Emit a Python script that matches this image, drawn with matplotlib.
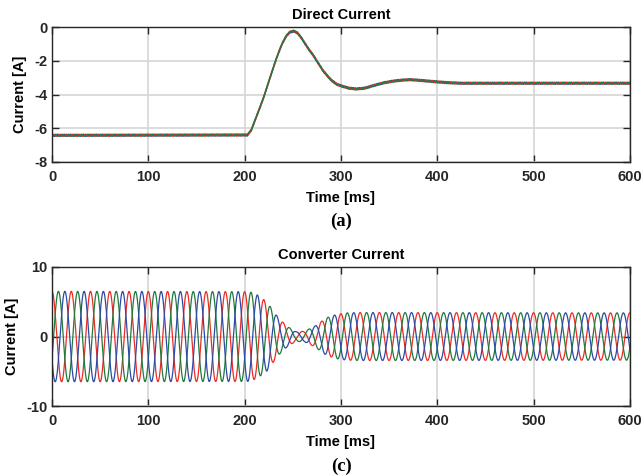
import numpy as np
import matplotlib
matplotlib.use("Agg")
import matplotlib.pyplot as plt

# --- data ---
# direct current (same envelope for all three traces), time in ms, current in A
dc_time = [0, 203, 207, 211, 215, 219, 223, 227, 231, 235, 239, 243, 247, 251,
           255, 259, 263, 267, 271, 276, 281, 286, 291, 296, 301, 308, 316, 325,
           335, 345, 355, 365, 372, 380, 390, 400, 412, 425, 450, 600]
dc_value = [-6.42, -6.4, -6.1, -5.5, -4.9, -4.3, -3.6, -2.9, -2.2, -1.55, -0.98,
            -0.55, -0.3, -0.24, -0.35, -0.65, -1.0, -1.35, -1.65, -2.1, -2.55,
            -2.9, -3.2, -3.4, -3.5, -3.62, -3.67, -3.62, -3.45, -3.3, -3.2, -3.14,
            -3.12, -3.15, -3.2, -3.25, -3.3, -3.33, -3.33, -3.33]
dc_ripple = 0.06  # A, small ripple visible on the dc traces

# converter current: peak amplitude of the three phases over time
ac_time = [0, 205, 213, 223, 235, 244, 253, 262, 273, 285, 296, 306, 320, 600]
ac_amp = [6.5, 6.45, 6.0, 5.0, 2.7, 1.5, 0.7, 0.75, 1.5, 2.7, 3.2, 3.4, 3.45, 3.4]
freq_hz = 50
phase_deg = [0, -120, 120]
colors = ["#ee2a24", "#1f7a3a", "#2b4aa6"]

# --- figure ---
plt.rcParams["font.family"] = ["Liberation Sans", "DejaVu Sans"]
plt.rcParams["font.weight"] = "bold"
plt.rcParams["font.size"] = 10.5
plt.rcParams["axes.unicode_minus"] = False

fig = plt.figure(figsize=(6.42, 4.75), dpi=100)
ax1 = fig.add_axes([0.081, 0.659, 0.900, 0.284])
ax2 = fig.add_axes([0.081, 0.145, 0.900, 0.293])

t = np.linspace(0, 600, 6001)
w = 2 * np.pi * freq_hz / 1000.0

# direct current traces
dc = np.interp(t, dc_time, dc_value)
for k in [2, 0, 1]:
    ph = np.deg2rad(phase_deg[k])
    ax1.plot(t, dc + dc_ripple * np.sin(3 * w * t + ph), color=colors[k], lw=1.0)

# converter current traces
env = np.interp(t, ac_time, ac_amp)
for k in range(3):
    ph = np.deg2rad(phase_deg[k])
    ax2.plot(t, env * np.cos(w * t + ph), color=colors[k], lw=0.9)

for ax in (ax1, ax2):
    ax.set_xlim(0, 600)
    ax.set_xticks(range(0, 601, 100))
    ax.grid(True, color="#d6d6d6", lw=1.2)
    ax.set_axisbelow(True)
    ax.tick_params(direction="in", top=True, right=True, length=5, width=1,
                   labelsize=10.5, colors="#262626")
    ax.tick_params(axis="x", pad=6)
    ax.tick_params(axis="y", pad=3.5)
    for s in ax.spines.values():
        s.set_color("#262626")
        s.set_linewidth(1.0)
    ax.set_xlabel("Time [ms]", fontweight="bold")
    ax.set_ylabel("Current [A]", fontweight="bold", va="center")

ax1.set_ylim(-8, 0)
ax1.set_yticks(range(-8, 1, 2))
ax1.set_title("Direct Current", fontweight="bold", fontsize=10.5, pad=6)
ax1.xaxis.set_label_coords(0.5, -0.215)
ax1.yaxis.set_label_coords(-0.056, 0.5)

ax2.set_ylim(-10, 10)
ax2.set_yticks([-10, 0, 10])
ax2.set_title("Converter Current", fontweight="bold", fontsize=10.5, pad=6)
ax2.xaxis.set_label_coords(0.5, -0.21)
ax2.yaxis.set_label_coords(-0.069, 0.5)

fig.text(341 / 642, 1 - 221 / 475, "(a)", ha="center", va="center",
         family="Liberation Serif", fontweight="bold", fontsize=13.5)
fig.text(341 / 642, 1 - 466 / 475, "(c)", ha="center", va="center",
         family="Liberation Serif", fontweight="bold", fontsize=13.5)

fig.savefig("out.png", dpi=100)
